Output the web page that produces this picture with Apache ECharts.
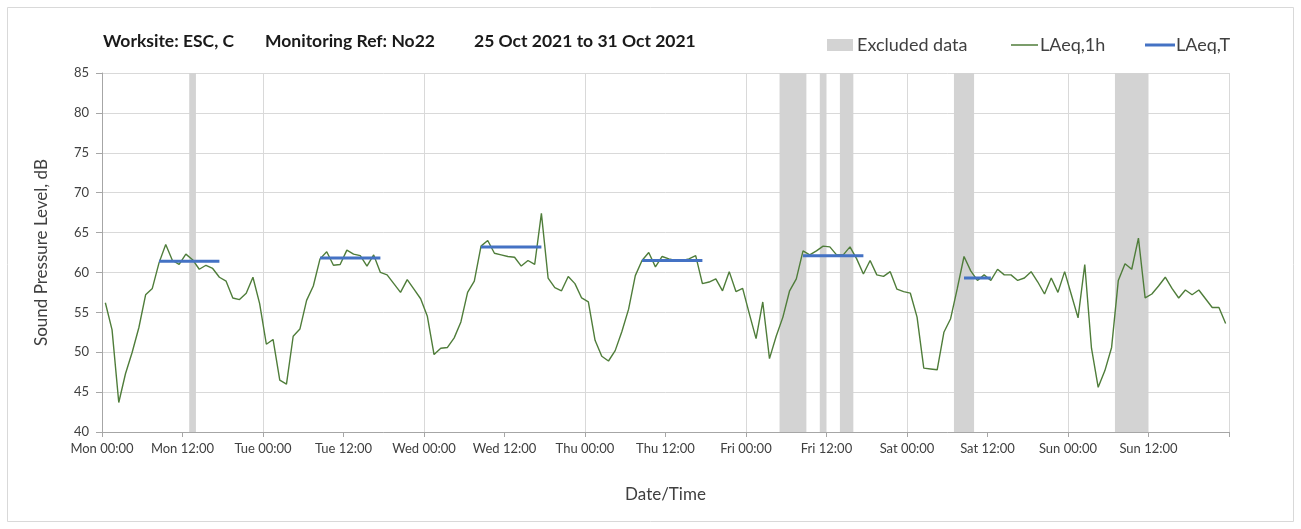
<!DOCTYPE html>
<html>
<head>
<meta charset="utf-8">
<script src="https://cdn.jsdelivr.net/npm/echarts@6/dist/echarts.min.js"></script>
<style>
html, body { margin: 0; padding: 0; background: #fff; }
#main { width: 1301px; height: 529px; }
</style>
</head>
<body>
<div id="main"></div>
<script>
// day names for the x axis labels
var dayNames = ['Mon', 'Tue', 'Wed', 'Thu', 'Fri', 'Sat', 'Sun'];

// hourly LAeq,1h values, Mon 00:00 .. Sun 23:00
var laeq1h = [
    56.2, 52.8, 43.7, 47.3, 50.0, 53.1, 57.2, 58.0, 61.2, 63.5, 61.5, 61.0,
    62.3, 61.6, 60.4, 60.9, 60.5, 59.4, 58.9, 56.8, 56.6, 57.4, 59.4, 56.1,
    51.0, 51.6, 46.5, 46.0, 52.0, 52.9, 56.5, 58.3, 61.7, 62.6, 60.9, 61.0,
    62.8, 62.3, 62.1, 60.8, 62.2, 60.0, 59.7, 58.6, 57.5, 59.1, 57.9, 56.7,
    54.5, 49.7, 50.5, 50.6, 51.8, 53.8, 57.5, 58.9, 63.3, 64.0, 62.4, 62.2,
    62.0, 61.9, 60.8, 61.5, 61.0, 67.4, 59.3, 58.1, 57.7, 59.5, 58.6, 56.8,
    56.3, 51.5, 49.5, 48.9, 50.2, 52.6, 55.4, 59.6, 61.5, 62.5, 60.7, 62.0,
    61.7, 61.5, 61.5, 61.7, 62.1, 58.6, 58.8, 59.2, 57.7, 60.1, 57.6, 58.0,
    54.8, 51.7, 56.3, 49.2, 52.0, 54.4, 57.7, 59.2, 62.7, 62.2, 62.7, 63.3,
    63.2, 62.2, 62.2, 63.2, 61.7, 59.8, 61.5, 59.7, 59.5, 60.1, 57.9, 57.6,
    57.4, 54.4, 48.0, 47.9, 47.8, 52.5, 54.2, 58.0, 62.0, 60.2, 59.0, 59.7,
    59.0, 60.4, 59.7, 59.7, 59.0, 59.3, 60.1, 58.8, 57.3, 59.3, 57.5, 60.1,
    57.2, 54.3, 61.0, 50.5, 45.6, 47.7, 50.6, 59.0, 61.1, 60.4, 64.3, 56.8,
    57.3, 58.3, 59.4, 58.0, 56.8, 57.8, 57.2, 57.8, 56.7, 55.6, 55.6, 53.6
];

// LAeq,T periods (hour index from Mon 00:00, first and last hour) and level
var ltStart = [8, 32, 56, 80, 104, 128];
var ltEnd = [17, 41, 65, 89, 113, 132];
var ltLevel = [61.4, 61.8, 63.2, 61.5, 62.1, 59.3];

// excluded data periods, hours from Mon 00:00
var exStart = [13, 101, 107, 110, 127, 151];
var exEnd = [14, 105, 108, 112, 130, 156];

// y axis ticks
var yMin = 40, yMax = 85, yStep = 5;

var myChart = echarts.init(document.getElementById('main'));

var lineData = laeq1h.map(function (v, i) { return [i + 0.5, v]; });

// LAeq,T segments, split with '-' so they are not joined
var ltData = [];
for (var k = 0; k < ltStart.length; k++) {
    for (var h = ltStart[k]; h <= ltEnd[k]; h++) {
        ltData.push([h + 0.5, ltLevel[k]]);
    }
    ltData.push([ltEnd[k] + 0.5, '-']);
}

var exAreas = [];
for (var j = 0; j < exStart.length; j++) {
    exAreas.push([{ xAxis: exStart[j] }, { xAxis: exEnd[j] }]);
}

var fontName = 'Lato';
var txtColor = '#404040';
var titleFont = 'bold 17.5px Lato';

var option = {
    animation: false,
    backgroundColor: '#fff',
    textStyle: { fontFamily: fontName },
    graphic: [
        { type: 'rect', shape: { x: 7.5, y: 7.5, width: 1286, height: 514 },
          style: { fill: 'none', stroke: '#d9d9d9', lineWidth: 1 }, z: -10 },
        { type: 'text', left: 103, top: 32,
          style: { text: 'Worksite: ESC, C', font: titleFont, fill: '#1a1a1a' } },
        { type: 'text', left: 265, top: 32,
          style: { text: 'Monitoring Ref: No22', font: titleFont, fill: '#1a1a1a' } },
        { type: 'text', left: 474, top: 32,
          style: { text: '25 Oct 2021 to 31 Oct 2021', font: titleFont, fill: '#1a1a1a' } }
    ],
    legend: [
        { left: 827, top: 36, padding: 0, icon: 'rect', itemWidth: 26, itemHeight: 12,
          textStyle: { fontSize: 18, color: txtColor, padding: [0, 0, 0, -1] },
          data: ['Excluded data'] },
        { left: 1011, top: 36, padding: 0, icon: 'rect', itemWidth: 27, itemHeight: 1.5,
          textStyle: { fontSize: 18, color: txtColor, padding: [0, 0, 0, -3] },
          data: ['LAeq,1h'] },
        { left: 1145, top: 36, padding: 0, icon: 'rect', itemWidth: 30, itemHeight: 3,
          textStyle: { fontSize: 18, color: txtColor, padding: [0, 0, 0, -4] },
          data: ['LAeq,T'] }
    ],
    grid: { left: 102, right: 72, top: 73, bottom: 97 },
    xAxis: [
        {
            type: 'value', min: 0, max: 168, interval: 12,
            name: 'Date/Time', nameLocation: 'middle', nameGap: 54,
            nameTextStyle: { fontSize: 17, color: txtColor },
            axisLine: { show: true, lineStyle: { color: '#a6a6a6' } },
            axisTick: { show: true, length: 5, lineStyle: { color: '#a6a6a6' } },
            axisLabel: {
                margin: 10, fontSize: 13, color: txtColor,
                formatter: function (v) {
                    if (v >= 168) return '';
                    return dayNames[Math.floor(v / 24)] + ' ' + (v % 24 === 0 ? '00:00' : '12:00');
                }
            },
            splitLine: { show: false }
        },
        {
            // second axis only for the day gridlines
            type: 'value', min: 0, max: 168, interval: 24, position: 'bottom',
            axisLine: { show: false }, axisTick: { show: false }, axisLabel: { show: false },
            splitLine: { show: true, lineStyle: { color: '#d9d9d9', width: 1 } }
        }
    ],
    yAxis: {
        type: 'value', min: yMin, max: yMax, interval: yStep,
        name: 'Sound Pressure Level, dB', nameLocation: 'middle', nameGap: 52,
        nameTextStyle: { fontSize: 17, color: txtColor },
        axisLine: { show: true, lineStyle: { color: '#a6a6a6' } },
        axisTick: { show: true, length: 6, lineStyle: { color: '#a6a6a6' } },
        axisLabel: { margin: 13, fontSize: 13, color: txtColor },
        splitLine: { show: true, lineStyle: { color: '#d9d9d9', width: 1 } }
    },
    series: [
        {
            name: 'Excluded data', type: 'line', data: [], z: 1,
            color: '#d3d3d3',
            markArea: {
                silent: true,
                itemStyle: { color: '#d3d3d3' },
                data: exAreas
            }
        },
        {
            name: 'LAeq,1h', type: 'line', data: lineData, z: 3,
            color: '#4f7d3a', showSymbol: false, symbol: 'none',
            lineStyle: { color: '#4f7d3a', width: 1.4 }
        },
        {
            name: 'LAeq,T', type: 'line', data: ltData, z: 4,
            color: '#4472c4', showSymbol: false, symbol: 'none', connectNulls: false,
            lineStyle: { color: '#4472c4', width: 3 }
        }
    ]
};

myChart.setOption(option);
</script>
</body>
</html>
